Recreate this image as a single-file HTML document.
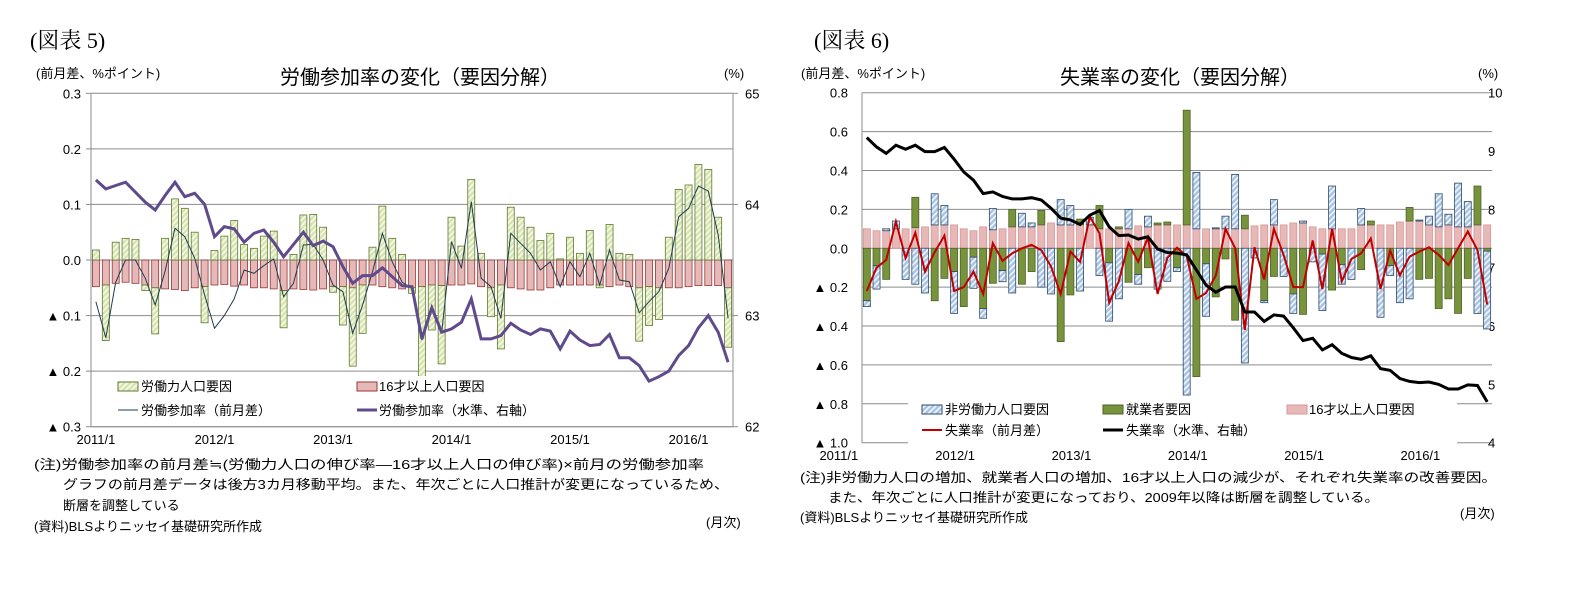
<!DOCTYPE html>
<html><head><meta charset="utf-8">
<style>
html,body{margin:0;padding:0;background:#fff;}
svg{display:block;font-family:"Liberation Sans","Noto Sans CJK JP",sans-serif;}
</style></head>
<body>
<svg id="svg" width="1577" height="592" viewBox="0 0 1577 592" xmlns="http://www.w3.org/2000/svg">
<defs>
<pattern id="hatchG" patternUnits="userSpaceOnUse" width="4" height="4" patternTransform="rotate(45)">
<rect width="4" height="4" fill="#d7e4b0"/><rect width="1.6" height="4" fill="#f6f9ec"/></pattern>
<pattern id="hatchB" patternUnits="userSpaceOnUse" width="4" height="4" patternTransform="rotate(45)">
<rect width="4" height="4" fill="#a9c3e2"/><rect width="1.6" height="4" fill="#f3f7fc"/></pattern>
</defs>
<g id="c1"></g>
<g id="c2"></g>
<g font-family="Liberation Serif, Noto Serif CJK SC, serif" font-size="22" fill="#000">
<text x="30" y="48">(図表 5)</text>
<text x="814" y="48">(図表 6)</text>
</g>
<g font-size="13" fill="#000">
<text x="36" y="78">(前月差、%ポイント)</text>
<text x="724" y="78">(%)</text>
<text x="801" y="78">(前月差、%ポイント)</text>
<text x="1478" y="78">(%)</text>
</g>
<g font-size="20" fill="#000" text-anchor="middle">
<text x="420" y="84">労働参加率の変化（要因分解）</text>
<text x="1180" y="84">失業率の変化（要因分解）</text>
</g>
<g font-size="13" fill="#000">
<text x="34" y="469" textLength="670" lengthAdjust="spacingAndGlyphs">(注)労働参加率の前月差≒(労働力人口の伸び率―16才以上人口の伸び率)×前月の労働参加率</text>
<text x="63" y="489" textLength="666" lengthAdjust="spacingAndGlyphs">グラフの前月差データは後方3カ月移動平均。また、年次ごとに人口推計が変更になっているため、</text>
<text x="63" y="510">断層を調整している</text>
<text x="34" y="531">(資料)BLSよりニッセイ基礎研究所作成</text>
<text x="706" y="527">(月次)</text>
<text x="800" y="482" textLength="697" lengthAdjust="spacingAndGlyphs">(注)非労働力人口の増加、就業者人口の増加、16才以上人口の減少が、それぞれ失業率の改善要因。</text>
<text x="828" y="502" textLength="551" lengthAdjust="spacingAndGlyphs">また、年次ごとに人口推計が変更になっており、2009年以降は断層を調整している。</text>
<text x="800" y="522">(資料)BLSよりニッセイ基礎研究所作成</text>
<text x="1460" y="518">(月次)</text>
</g>
</svg>
<script>
// ---------- Chart 1 data ----------
const months1 = 65;
const yearLabels = ["2011/1","2012/1","2013/1","2014/1","2015/1","2016/1"];
const lfFactor = [0.018,-0.10,0.032,0.039,0.037,-0.01,-0.083,0.039,0.11,0.093,0.05,-0.065,0.017,0.043,0.071,0.028,0.021,0.043,0.052,-0.067,0.01,0.081,0.082,0.059,-0.01,-0.069,-0.141,-0.087,0.023,0.097,0.039,0.01,-0.01,-0.186,-0.081,-0.141,0.077,0.025,0.145,0.012,-0.052,-0.115,0.095,0.077,0.059,0.035,0.048,0.002,0.041,0.012,0.053,-0.005,0.064,0.012,0.01,-0.096,-0.07,-0.057,0.041,0.127,0.135,0.172,0.163,0.077,-0.107];
const popFactor1 = [-0.048,-0.045,-0.042,-0.04,-0.042,-0.045,-0.05,-0.052,-0.053,-0.055,-0.05,-0.048,-0.045,-0.044,-0.047,-0.045,-0.05,-0.05,-0.052,-0.055,-0.052,-0.053,-0.054,-0.052,-0.048,-0.048,-0.05,-0.045,-0.045,-0.048,-0.05,-0.052,-0.05,-0.048,-0.045,-0.046,-0.045,-0.045,-0.043,-0.048,-0.05,-0.045,-0.05,-0.052,-0.054,-0.054,-0.05,-0.045,-0.045,-0.045,-0.045,-0.045,-0.048,-0.045,-0.048,-0.05,-0.048,-0.05,-0.05,-0.05,-0.048,-0.046,-0.046,-0.046,-0.05];
const lfprDiff = [-0.075,-0.14,-0.04,0,0,-0.033,-0.081,-0.02,0.057,0.042,0.003,-0.063,-0.123,-0.1,-0.07,-0.018,-0.024,-0.01,0.002,-0.066,-0.042,0.027,0.028,0,-0.045,-0.057,-0.132,-0.081,-0.021,0.048,-0.003,-0.04,-0.051,-0.144,-0.084,-0.132,0.033,-0.015,0.105,-0.033,-0.048,-0.105,0.048,0.03,0.012,-0.018,-0.003,-0.048,-0.003,-0.03,0.012,-0.045,0.018,-0.036,-0.039,-0.095,-0.075,-0.057,-0.015,0.078,0.093,0.133,0.124,0.045,-0.105];
const lfprLevel = [64.22,64.14,64.17,64.2,64.11,64.02,63.95,64.08,64.2,64.07,64.1,64.0,63.71,63.8,63.78,63.66,63.74,63.77,63.66,63.53,63.64,63.75,63.63,63.67,63.62,63.44,63.29,63.36,63.36,63.43,63.35,63.27,63.26,62.79,63.07,62.85,62.88,62.94,63.15,62.79,62.79,62.82,62.93,62.87,62.83,62.88,62.86,62.7,62.86,62.78,62.73,62.74,62.83,62.62,62.62,62.55,62.41,62.45,62.5,62.64,62.73,62.89,63.0,62.85,62.58];
const leftTicks1 = [0.3,0.2,0.1,0,-0.1,-0.2,-0.3];
const leftTickLabels1 = ["0.3","0.2","0.1","0.0","▲ 0.1","▲ 0.2","▲ 0.3"];
const rightTicks1 = [65,64,63,62];

// ---------- Chart 2 data ----------
const nlfFactor = [-0.03,-0.12,0.01,0.04,-0.16,-0.185,-0.23,0.16,0.10,-0.215,0,-0.16,-0.05,0.11,-0.057,-0.23,0.07,0.02,-0.2,-0.235,0.13,0.1,-0.22,0.04,-0.14,-0.30,-0.26,0.1,-0.05,0.055,-0.21,-0.17,-0.02,-0.755,0.29,-0.27,0.005,0.065,0.28,-0.59,-0.05,-0.01,0.13,-0.145,-0.1,0.01,-0.07,-0.29,0.22,-0.1,-0.16,0.085,0,-0.355,-0.05,-0.28,-0.26,0.005,0.045,0.17,0.055,0.225,0.13,-0.335,-0.4];
const empFactor = [-0.27,-0.09,-0.16,0,0,0.156,0,-0.27,-0.155,-0.12,-0.30,-0.046,-0.31,-0.18,-0.115,0.09,-0.185,-0.12,0.075,0,-0.48,-0.24,0.03,0,0.12,-0.075,0.01,-0.175,-0.135,-0.1,0.01,0.015,-0.1,0.59,-0.66,-0.08,-0.25,-0.055,-0.37,0.07,0,-0.27,-0.145,0,-0.235,-0.34,0,-0.03,-0.215,-0.085,0,-0.11,0.02,0,-0.09,0,0.07,-0.16,-0.155,-0.31,-0.26,-0.335,-0.155,0.2,-0.015];
const popFactor2 = [0.10,0.09,0.09,0.10,0.10,0.106,0.11,0.12,0.12,0.12,0.10,0.09,0.11,0.095,0.10,0.11,0.11,0.11,0.12,0.13,0.12,0.12,0.12,0.12,0.10,0.10,0.10,0.10,0.115,0.11,0.12,0.12,0.12,0.12,0.10,0.10,0.10,0.10,0.10,0.10,0.115,0.12,0.12,0.12,0.13,0.13,0.11,0.10,0.10,0.10,0.10,0.12,0.12,0.12,0.12,0.135,0.14,0.14,0.12,0.11,0.12,0.11,0.11,0.12,0.12];
const urDiff = [-0.22,-0.10,-0.06,0.137,-0.05,0.08,-0.12,-0.02,0.065,-0.22,-0.2,-0.12,-0.235,0.026,-0.065,-0.026,0,0.017,-0.01,-0.094,-0.235,-0.017,-0.07,0.163,0.077,-0.28,-0.17,0.026,-0.07,0.055,-0.235,-0.05,0.003,-0.04,-0.26,-0.23,-0.14,0.1,0,-0.42,0.005,-0.16,0.1,-0.034,-0.2,-0.2,0.04,-0.21,0.1,-0.17,-0.055,-0.026,0.05,-0.21,-0.012,-0.14,-0.043,-0.017,0.005,-0.034,-0.086,0,0.086,-0.01,-0.29];
const urLevel = [9.23,9.07,8.96,9.10,9.03,9.10,8.99,8.99,9.06,8.86,8.64,8.50,8.27,8.30,8.22,8.18,8.18,8.20,8.16,8.02,7.85,7.82,7.74,7.90,7.98,7.70,7.55,7.56,7.49,7.53,7.32,7.26,7.25,7.22,6.96,6.70,6.58,6.67,6.67,6.24,6.24,6.08,6.19,6.17,5.97,5.75,5.79,5.59,5.68,5.53,5.46,5.43,5.49,5.27,5.24,5.10,5.05,5.03,5.04,5.00,4.92,4.92,4.99,4.98,4.70];
const leftTicks2 = [0.8,0.6,0.4,0.2,0,-0.2,-0.4,-0.6,-0.8,-1.0];
const leftTickLabels2 = ["0.8","0.6","0.4","0.2","0.0","▲ 0.2","▲ 0.4","▲ 0.6","▲ 0.8","▲ 1.0"];
const rightTicks2 = [10,9,8,7,6,5,4];

const NS = "http://www.w3.org/2000/svg";
function mk(parent, tag, attrs, text){
  const e = document.createElementNS(NS, tag);
  for (const k in attrs) e.setAttribute(k, attrs[k]);
  if (text !== undefined) e.textContent = text;
  parent.appendChild(e);
  return e;
}

// ===== Chart 1 =====
(function(){
  const g = document.getElementById('c1');
  const L = 91, R = 733, T = 93.3, B = 426.7;
  const n = lfFactor.length;
  const step = (R - L) / n;
  const xc = i => L + (i + 0.5) * step;
  const yL = v => T + (0.3 - v) / 0.6 * (B - T);
  const yR = v => T + (65 - v) / 3 * (B - T);
  // gridlines
  leftTicks1.forEach((t, k) => {
    const gl = mk(g, 'line', {x1:L, x2:R, y1:yL(t), y2:yL(t), stroke:'#8c8c8c', 'stroke-width':1});
    
    
    const tl = mk(g, 'text', {x:L-10, y:yL(t)+5, 'text-anchor':'end', 'font-size':13}, leftTickLabels1[k]);
    
    
    mk(g, 'line', {x1:L-5, x2:L, y1:yL(t), y2:yL(t), stroke:'#8c8c8c'});
  });
  rightTicks1.forEach(t => {
    const tl = mk(g, 'text', {x:R+12, y:yR(t)+5, 'font-size':13}, String(t));
    
    
    mk(g, 'line', {x1:R, x2:R+5, y1:yR(t), y2:yR(t), stroke:'#8c8c8c'});
  });
  mk(g, 'line', {x1:L, x2:L, y1:T, y2:B, stroke:'#8c8c8c'});
  mk(g, 'line', {x1:R, x2:R, y1:T, y2:B, stroke:'#8c8c8c'});
  yearLabels.forEach((lab, k) => {
    const tl = mk(g, 'text', {x:xc(k*12), y:444, 'text-anchor':'middle', 'font-size':13}, lab);
    
    
  });
  const bw = 7;
  const y0 = yL(0);
  for (let i = 0; i < n; i++) {
    const p = popFactor1[i];
    const r1 = mk(g, 'rect', {x:xc(i)-bw/2, y:Math.min(y0,yL(p)), width:bw, height:Math.abs(yL(p)-y0), fill:'#e6b9b8', stroke:'#953735', 'stroke-width':0.8});
    
    
    const v = lfFactor[i];
    let base = v >= 0 ? y0 : yL(p);
    let yt = v >= 0 ? yL(v) : yL(p) ;
    let yb = v >= 0 ? y0 : yL(p + v);
    const r2 = mk(g, 'rect', {x:xc(i)-bw/2, y:Math.min(yt,yb), width:bw, height:Math.abs(yb-yt), fill:'url(#hatchG)', stroke:'#5f7a2c', 'stroke-width':0.8});
    
    
  }
  const d1 = lfprDiff.map((v,i)=>(i?'L':'M')+xc(i).toFixed(1)+','+yL(v).toFixed(1)).join('');
  const l1 = mk(g, 'path', {d:d1, fill:'none', stroke:'#1f3b4d', 'stroke-width':1});
  
  
  const d2 = lfprLevel.map((v,i)=>(i?'L':'M')+xc(i).toFixed(1)+','+yR(v).toFixed(1)).join('');
  const l2 = mk(g, 'path', {d:d2, fill:'none', stroke:'#5f4b8b', 'stroke-width':3});
  
  
  // legend
  const lg = mk(g, 'g', {'font-size':13});
  
  
  mk(lg, 'rect', {x:105, y:376, width:500, height:50, fill:'#fff'});
  mk(lg, 'line', {x1:L, x2:R, y1:426.7, y2:426.7, stroke:'#8c8c8c'});
  mk(lg, 'rect', {x:118, y:382, width:20, height:9, fill:'url(#hatchG)', stroke:'#5f7a2c'});
  mk(lg, 'text', {x:141, y:391}, '労働力人口要因');
  mk(lg, 'rect', {x:357, y:382, width:20, height:9, fill:'#e6b9b8', stroke:'#953735'});
  mk(lg, 'text', {x:379, y:391}, '16才以上人口要因');
  mk(lg, 'line', {x1:118, x2:138, y1:410, y2:410, stroke:'#1f3b4d'});
  mk(lg, 'text', {x:141, y:415}, '労働参加率（前月差）');
  mk(lg, 'line', {x1:357, x2:377, y1:410, y2:410, stroke:'#5f4b8b', 'stroke-width':3});
  mk(lg, 'text', {x:379, y:415}, '労働参加率（水準、右軸）');
})();

// ===== Chart 2 =====
(function(){
  const g = document.getElementById('c2');
  const L = 862, R = 1492, T = 92.7, B = 442.7;
  const n = nlfFactor.length;
  const step = (R - L) / n;
  const xc = i => L + (i + 0.5) * step;
  const yL = v => T + (0.8 - v) / 1.8 * (B - T);
  const yR = v => T + (10 - v) / 6 * (B - T);
  leftTicks2.forEach((t, k) => {
    const gl = mk(g, 'line', {x1:L, x2:R, y1:yL(t), y2:yL(t), stroke:'#8c8c8c', 'stroke-width':1});
    
    
    const tl = mk(g, 'text', {x:L-14, y:yL(t)+5, 'text-anchor':'end', 'font-size':13}, leftTickLabels2[k]);
    
    
  });
  rightTicks2.forEach(t => {
    const tl = mk(g, 'text', {x:R-4, y:yR(t)+5, 'font-size':13}, String(t));
    
    
  });
  mk(g, 'line', {x1:L, x2:L, y1:T, y2:B, stroke:'#8c8c8c'});
  yearLabels.forEach((lab, k) => {
    const tl = mk(g, 'text', {x:xc(k*12)-28, y:460, 'text-anchor':'middle', 'font-size':13}, lab);
    
    
  });
  const bw = 7;
  for (let i = 0; i < n; i++) {
    let pos = 0, neg = 0;
    const series = [[popFactor2[i],'#e6b9b8','#d99694','population-factor-bar'],[empFactor[i],'#77933c','#4f6228','employment-factor-bar'],[nlfFactor[i],'url(#hatchB)','#2b4a6b','nonlabor-force-factor-bar']];
    series.forEach(s => {
      const v = s[0];
      if (v === 0) return;
      let a, b;
      if (v > 0) { a = pos; b = pos + v; pos = b; } else { a = neg; b = neg + v; neg = b; }
      const r = mk(g, 'rect', {x:xc(i)-bw/2, y:Math.min(yL(a),yL(b)), width:bw, height:Math.abs(yL(a)-yL(b)), fill:s[1], stroke:s[2], 'stroke-width':0.8});
      
      
    });
  }
  const d1 = urDiff.map((v,i)=>(i?'L':'M')+xc(i).toFixed(1)+','+yL(v).toFixed(1)).join('');
  const l1 = mk(g, 'path', {d:d1, fill:'none', stroke:'#c00000', 'stroke-width':2});
  
  
  const d2 = urLevel.map((v,i)=>(i?'L':'M')+xc(i).toFixed(1)+','+yR(v).toFixed(1)).join('');
  const l2 = mk(g, 'path', {d:d2, fill:'none', stroke:'#000', 'stroke-width':3});
  
  
  const lg = mk(g, 'g', {'font-size':13});
  
  
  mk(lg, 'rect', {x:908, y:398, width:549, height:46, fill:'#fff'});
  mk(lg, 'rect', {x:922, y:405, width:20, height:9, fill:'url(#hatchB)', stroke:'#2b4a6b'});
  mk(lg, 'text', {x:945, y:414}, '非労働力人口要因');
  mk(lg, 'rect', {x:1103, y:405, width:20, height:9, fill:'#77933c', stroke:'#4f6228'});
  mk(lg, 'text', {x:1126, y:414}, '就業者要因');
  mk(lg, 'rect', {x:1287, y:405, width:20, height:9, fill:'#e6b9b8', stroke:'#d99694'});
  mk(lg, 'text', {x:1309, y:414}, '16才以上人口要因');
  mk(lg, 'line', {x1:922, x2:942, y1:430, y2:430, stroke:'#c00000', 'stroke-width':2});
  mk(lg, 'text', {x:945, y:435}, '失業率（前月差）');
  mk(lg, 'line', {x1:1103, x2:1123, y1:430, y2:430, stroke:'#000', 'stroke-width':3});
  mk(lg, 'text', {x:1126, y:435}, '失業率（水準、右軸）');
})();
</script>
</body></html>
